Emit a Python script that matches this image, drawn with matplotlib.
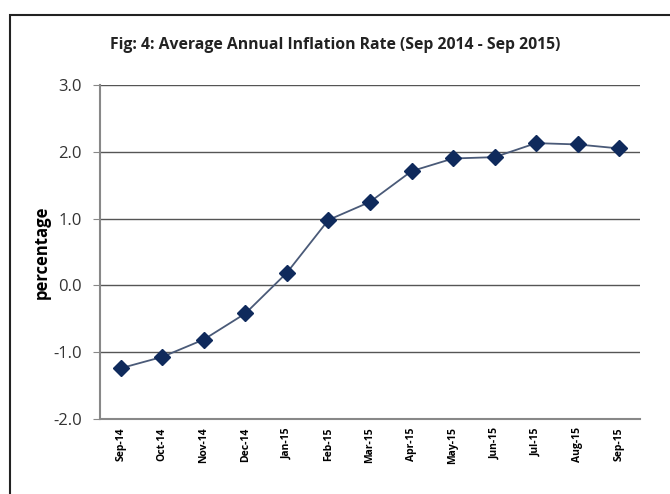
import matplotlib
matplotlib.use("Agg")
import matplotlib.pyplot as plt
from matplotlib.patches import Rectangle
import numpy as np

months = ["Sep-14", "Oct-14", "Nov-14", "Dec-14", "Jan-15", "Feb-15", "Mar-15",
          "Apr-15", "May-15", "Jun-15", "Jul-15", "Aug-15", "Sep-15"]
inflation = [-1.24, -1.07, -0.81, -0.42, 0.19, 0.98, 1.25,
             1.71, 1.90, 1.92, 2.13, 2.11, 2.05]
yticks = [-2.0, -1.0, 0.0, 1.0, 2.0, 3.0]

plt.rcParams['font.family'] = ['Open Sans', 'DejaVu Sans']

W, H = 670, 494
fig = plt.figure(figsize=(W / 100, H / 100), dpi=100)
fig.patch.set_facecolor("white")

# outer frame of the chart box (runs off the right and bottom edges)
fig.patches.append(Rectangle((10 / W, -0.2), 1.2, 1.2 - 15 / H, transform=fig.transFigure,
                             fill=False, edgecolor="#222222", linewidth=1.5))

ax = fig.add_axes([100 / W, 1 - 419 / H, 540 / W, (419 - 85) / H])
x = np.arange(len(months))
ax.plot(x, inflation, color="#4a5a78", linewidth=1.3, marker="D", markersize=8,
        markerfacecolor="#0f2a5c", markeredgecolor="#0f2a5c", zorder=3)

ax.set_xlim(-0.5, len(months) - 0.5)
ax.set_ylim(-2.0, 3.0)
ax.set_yticks(yticks)
ax.set_yticklabels([f"{v:.1f}" for v in yticks], fontsize=12, color="#333333")
ax.set_xticks(x)
ax.set_xticklabels(months, rotation=90, fontsize=7.5, fontweight="bold")
ax.tick_params(axis="x", length=0, pad=6)
ax.tick_params(axis="y", length=5, color="#888888", pad=8)

ax.yaxis.grid(True, color="#555555", linewidth=1.0)
ax.set_axisbelow(True)
for s in ["top", "right"]:
    ax.spines[s].set_visible(False)
ax.spines["left"].set_color("#888888")
ax.spines["left"].set_linewidth(1.5)
ax.spines["bottom"].set_color("#888888")
ax.spines["bottom"].set_linewidth(1.5)

ax.set_ylabel("percentage", fontsize=12, fontweight="bold", labelpad=2)

fig.text(0.5, 1 - 45 / H, "Fig: 4: Average Annual Inflation Rate (Sep 2014 - Sep 2015)",
         ha="center", va="center", fontsize=11.3, fontweight="bold", color="#222222")

fig.savefig("out.png", dpi=100)
